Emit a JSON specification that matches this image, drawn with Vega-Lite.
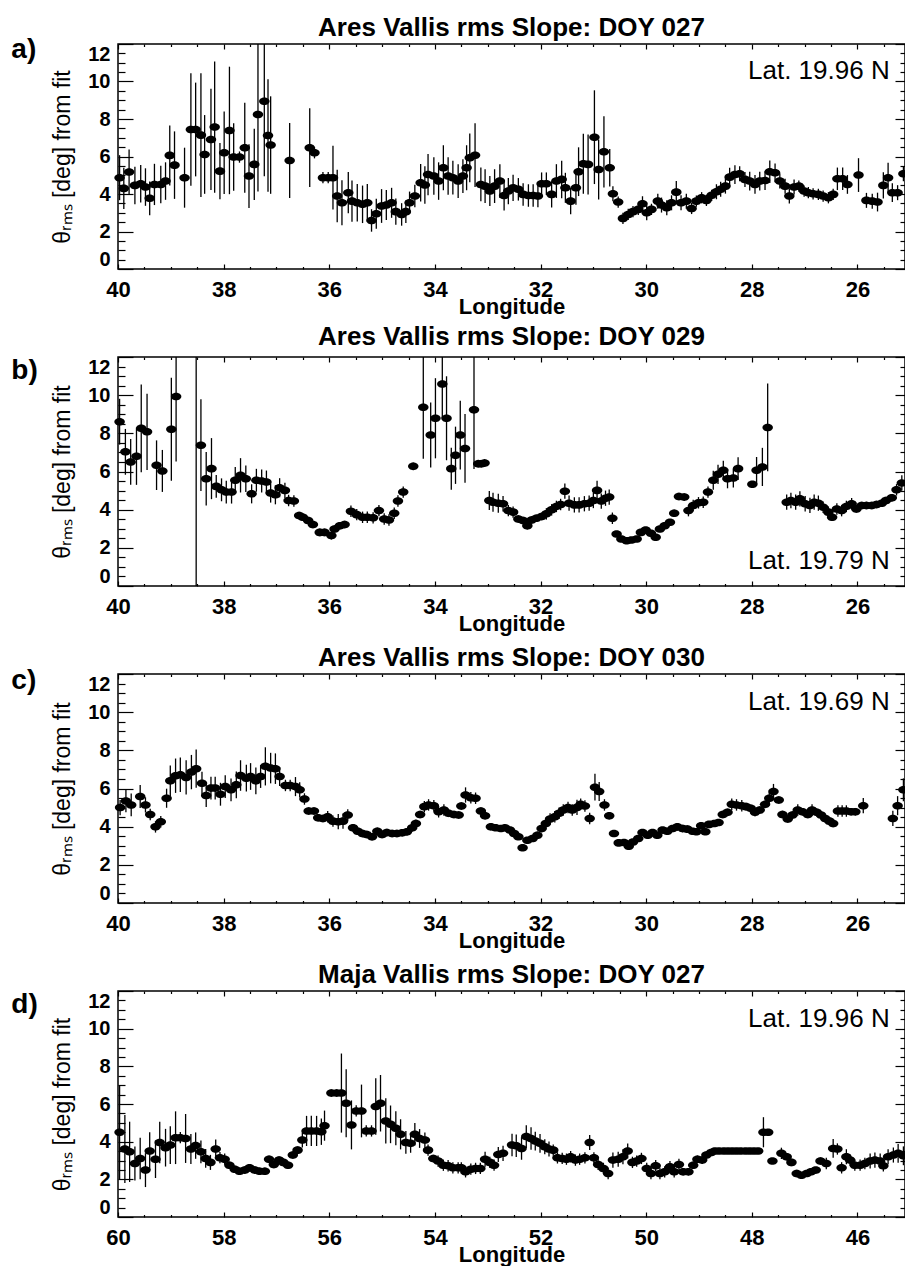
{
  "$schema": "https://vega.github.io/schema/vega-lite/v6.json",
  "background": "white",
  "padding": {"left": 10, "top": 14, "right": 2, "bottom": 0},
  "bounds": "flush",
  "spacing": 88,
  "config": {
    "view": {"stroke": "black", "strokeWidth": 1.5},
    "font": "Liberation Sans",
    "axis": {"labelColor": "black", "titleColor": "black", "tickColor": "black", "labelFont": "Liberation Sans", "titleFont": "Liberation Sans"},
    "title": {"color": "black", "font": "Liberation Sans"}
  },
  "datasets": {
    "a": [
      {"lon":39.97,"v":4.87,"e":1.2},{"lon":39.89,"v":4.30,"e":1.1},{"lon":39.79,"v":5.17,"e":1.2},{"lon":39.68,"v":4.46,"e":1.0},{"lon":39.57,"v":4.55,"e":1.0},{"lon":39.48,"v":4.37,"e":1.0},{"lon":39.40,"v":3.77,"e":0.9},{"lon":39.31,"v":4.51,"e":1.1},{"lon":39.19,"v":4.51,"e":1.0},{"lon":39.10,"v":4.69,"e":1.0},
      {"lon":39.02,"v":6.06,"e":1.6},{"lon":38.93,"v":5.54,"e":1.8},{"lon":38.74,"v":4.87,"e":1.6},{"lon":38.62,"v":7.44,"e":3.0},{"lon":38.53,"v":7.44,"e":2.5},{"lon":38.43,"v":7.14,"e":3.3},{"lon":38.36,"v":6.11,"e":2.1},{"lon":38.24,"v":6.91,"e":2.7},{"lon":38.17,"v":7.57,"e":3.5},{"lon":38.07,"v":5.22,"e":1.5},
      {"lon":37.99,"v":6.20,"e":2.2},{"lon":37.89,"v":7.39,"e":3.4},{"lon":37.81,"v":5.97,"e":1.8},{"lon":37.70,"v":5.97,"e":0.3},{"lon":37.60,"v":6.47,"e":2.4},{"lon":37.52,"v":4.96,"e":1.7},{"lon":37.42,"v":5.58,"e":1.9},{"lon":37.35,"v":8.24,"e":4.1},{"lon":37.23,"v":8.95,"e":4.0},{"lon":37.16,"v":7.12,"e":3.0},
      {"lon":37.11,"v":6.61,"e":2.6},{"lon":36.75,"v":5.79,"e":2.0},{"lon":36.37,"v":6.47,"e":2.1},{"lon":36.28,"v":6.20,"e":0.3},{"lon":36.12,"v":4.87,"e":0.3},{"lon":36.02,"v":4.87,"e":0.3},{"lon":35.93,"v":4.87,"e":1.7},{"lon":35.85,"v":3.89,"e":1.4},{"lon":35.76,"v":3.53,"e":1.2},{"lon":35.64,"v":4.07,"e":1.1},
      {"lon":35.57,"v":3.62,"e":1.1},{"lon":35.47,"v":3.53,"e":1.0},{"lon":35.37,"v":3.45,"e":1.0},{"lon":35.28,"v":3.53,"e":1.0},{"lon":35.20,"v":2.59,"e":0.6},{"lon":35.11,"v":2.95,"e":0.8},{"lon":35.01,"v":3.36,"e":0.9},{"lon":34.92,"v":3.41,"e":0.8},{"lon":34.82,"v":3.53,"e":0.8},{"lon":34.74,"v":3.06,"e":0.7},
      {"lon":34.63,"v":2.91,"e":0.6},{"lon":34.55,"v":3.06,"e":0.6},{"lon":34.48,"v":3.53,"e":0.6},{"lon":34.38,"v":3.89,"e":0.6},{"lon":34.27,"v":4.60,"e":1.0},{"lon":34.19,"v":4.48,"e":1.0},{"lon":34.13,"v":5.04,"e":1.1},{"lon":34.02,"v":4.96,"e":1.0},{"lon":33.93,"v":4.69,"e":1.0},{"lon":33.84,"v":5.40,"e":1.2},
      {"lon":33.75,"v":4.96,"e":1.0},{"lon":33.66,"v":4.87,"e":0.9},{"lon":33.56,"v":4.69,"e":0.9},{"lon":33.47,"v":4.96,"e":0.9},{"lon":33.40,"v":5.40,"e":1.2},{"lon":33.34,"v":5.93,"e":1.3},{"lon":33.24,"v":6.07,"e":1.7},{"lon":33.13,"v":4.51,"e":0.9},{"lon":33.05,"v":4.42,"e":0.9},{"lon":32.96,"v":4.16,"e":0.8},
      {"lon":32.87,"v":4.42,"e":0.9},{"lon":32.77,"v":4.69,"e":0.9},{"lon":32.69,"v":3.92,"e":0.8},{"lon":32.61,"v":4.16,"e":0.7},{"lon":32.52,"v":4.33,"e":0.7},{"lon":32.42,"v":4.25,"e":0.6},{"lon":32.33,"v":3.98,"e":0.6},{"lon":32.23,"v":3.92,"e":0.6},{"lon":32.14,"v":3.92,"e":0.6},{"lon":32.05,"v":3.89,"e":0.6},
      {"lon":31.98,"v":4.55,"e":0.6},{"lon":31.89,"v":4.55,"e":0.6},{"lon":31.79,"v":3.98,"e":0.7},{"lon":31.70,"v":4.69,"e":0.9},{"lon":31.60,"v":4.78,"e":1.0},{"lon":31.53,"v":4.33,"e":0.8},{"lon":31.43,"v":3.62,"e":0.7},{"lon":31.33,"v":4.33,"e":0.9},{"lon":31.28,"v":5.19,"e":1.3},{"lon":31.19,"v":5.61,"e":1.6},
      {"lon":31.10,"v":5.58,"e":1.6},{"lon":30.98,"v":7.03,"e":2.5},{"lon":30.90,"v":5.31,"e":1.6},{"lon":30.80,"v":6.25,"e":1.9},{"lon":30.69,"v":5.40,"e":1.0},{"lon":30.63,"v":4.01,"e":0.4},{"lon":30.53,"v":3.57,"e":0.3},{"lon":30.44,"v":2.70,"e":0.3},{"lon":30.34,"v":2.91,"e":0.3},{"lon":30.25,"v":3.06,"e":0.3},
      {"lon":30.15,"v":3.18,"e":0.3},{"lon":30.07,"v":3.48,"e":0.4},{"lon":29.99,"v":3.00,"e":0.4},{"lon":29.90,"v":3.18,"e":0.3},{"lon":29.78,"v":3.62,"e":0.4},{"lon":29.71,"v":3.41,"e":0.4},{"lon":29.61,"v":3.27,"e":0.4},{"lon":29.52,"v":3.53,"e":0.4},{"lon":29.43,"v":4.10,"e":0.6},{"lon":29.34,"v":3.53,"e":0.4},
      {"lon":29.24,"v":3.62,"e":0.4},{"lon":29.14,"v":3.23,"e":0.3},{"lon":29.05,"v":3.62,"e":0.3},{"lon":28.95,"v":3.80,"e":0.3},{"lon":28.86,"v":3.66,"e":0.3},{"lon":28.76,"v":3.93,"e":0.3},{"lon":28.67,"v":4.12,"e":0.4},{"lon":28.59,"v":4.25,"e":0.4},{"lon":28.50,"v":4.42,"e":0.4},{"lon":28.42,"v":4.90,"e":0.5},
      {"lon":28.32,"v":5.04,"e":0.5},{"lon":28.23,"v":5.08,"e":0.4},{"lon":28.13,"v":4.78,"e":0.4},{"lon":28.04,"v":4.69,"e":0.5},{"lon":27.94,"v":4.51,"e":0.5},{"lon":27.85,"v":4.69,"e":0.5},{"lon":27.75,"v":4.72,"e":0.5},{"lon":27.66,"v":5.19,"e":0.6},{"lon":27.56,"v":5.13,"e":0.5},{"lon":27.47,"v":4.69,"e":0.4},
      {"lon":27.37,"v":4.42,"e":0.4},{"lon":27.29,"v":3.89,"e":0.4},{"lon":27.20,"v":4.37,"e":0.4},{"lon":27.11,"v":4.42,"e":0.3},{"lon":27.01,"v":4.16,"e":0.3},{"lon":26.93,"v":4.07,"e":0.3},{"lon":26.84,"v":4.01,"e":0.3},{"lon":26.74,"v":3.98,"e":0.3},{"lon":26.65,"v":3.89,"e":0.3},{"lon":26.55,"v":3.80,"e":0.3},
      {"lon":26.46,"v":3.98,"e":0.3},{"lon":26.38,"v":4.81,"e":0.6},{"lon":26.28,"v":4.81,"e":0.6},{"lon":26.19,"v":4.51,"e":0.5},{"lon":25.98,"v":5.01,"e":0.9},{"lon":25.83,"v":3.66,"e":0.4},{"lon":25.72,"v":3.62,"e":0.4},{"lon":25.62,"v":3.57,"e":0.5},{"lon":25.51,"v":4.46,"e":0.7},{"lon":25.42,"v":4.87,"e":0.8},
      {"lon":25.34,"v":4.07,"e":0.5},{"lon":25.24,"v":4.07,"e":0.4},{"lon":25.13,"v":5.08,"e":0.4}
    ],
    "b": [
      {"lon":39.97,"v":8.61,"e":1.2},{"lon":39.86,"v":7.03,"e":1.2},{"lon":39.76,"v":6.50,"e":1.2},{"lon":39.65,"v":6.80,"e":1.5},{"lon":39.56,"v":8.26,"e":2.3},{"lon":39.45,"v":8.08,"e":2.0},{"lon":39.27,"v":6.33,"e":1.3},{"lon":39.16,"v":6.03,"e":1.1},{"lon":38.99,"v":8.21,"e":2.7},{"lon":38.90,"v":9.93,"e":3.4},
      {"lon":38.43,"v":7.38,"e":2.4},{"lon":38.33,"v":5.62,"e":1.4},{"lon":38.23,"v":6.15,"e":1.6},{"lon":38.14,"v":5.22,"e":0.6},{"lon":38.04,"v":5.04,"e":0.6},{"lon":37.95,"v":4.92,"e":0.6},{"lon":37.85,"v":4.92,"e":0.6},{"lon":37.78,"v":5.54,"e":0.7},{"lon":37.68,"v":5.80,"e":0.9},{"lon":37.58,"v":5.62,"e":0.7},
      {"lon":37.47,"v":4.83,"e":0.5},{"lon":37.38,"v":5.54,"e":0.6},{"lon":37.28,"v":5.50,"e":0.6},{"lon":37.19,"v":5.45,"e":0.6},{"lon":37.11,"v":4.87,"e":0.5},{"lon":37.02,"v":4.78,"e":0.5},{"lon":36.94,"v":5.15,"e":0.5},{"lon":36.84,"v":5.01,"e":0.4},{"lon":36.77,"v":4.48,"e":0.3},{"lon":36.67,"v":4.45,"e":0.3},
      {"lon":36.57,"v":3.69,"e":0.2},{"lon":36.50,"v":3.60,"e":0.2},{"lon":36.40,"v":3.43,"e":0.2},{"lon":36.31,"v":3.22,"e":0.2},{"lon":36.18,"v":2.81,"e":0.2},{"lon":36.09,"v":2.81,"e":0.2},{"lon":35.96,"v":2.64,"e":0.2},{"lon":35.90,"v":2.99,"e":0.2},{"lon":35.80,"v":3.16,"e":0.2},{"lon":35.71,"v":3.22,"e":0.2},
      {"lon":35.59,"v":3.92,"e":0.3},{"lon":35.48,"v":3.74,"e":0.3},{"lon":35.37,"v":3.60,"e":0.3},{"lon":35.28,"v":3.60,"e":0.3},{"lon":35.17,"v":3.57,"e":0.3},{"lon":35.06,"v":3.95,"e":0.3},{"lon":34.96,"v":3.51,"e":0.3},{"lon":34.87,"v":3.46,"e":0.3},{"lon":34.77,"v":3.81,"e":0.3},{"lon":34.70,"v":4.45,"e":0.3},
      {"lon":34.60,"v":4.92,"e":0.3},{"lon":34.41,"v":6.27,"e":0.2},{"lon":34.22,"v":9.37,"e":2.7},{"lon":34.08,"v":7.91,"e":1.7},{"lon":33.99,"v":8.79,"e":2.1},{"lon":33.86,"v":10.58,"e":1.8},{"lon":33.78,"v":8.79,"e":2.2},{"lon":33.69,"v":6.15,"e":1.1},{"lon":33.61,"v":6.85,"e":1.5},{"lon":33.52,"v":7.91,"e":1.8},
      {"lon":33.43,"v":7.21,"e":1.8},{"lon":33.26,"v":9.23,"e":3.1},{"lon":33.18,"v":6.41,"e":0.2},{"lon":33.12,"v":6.41,"e":0.2},{"lon":33.06,"v":6.45,"e":0.2},{"lon":32.97,"v":4.48,"e":0.5},{"lon":32.90,"v":4.39,"e":0.5},{"lon":32.80,"v":4.34,"e":0.5},{"lon":32.71,"v":4.31,"e":0.4},{"lon":32.61,"v":3.95,"e":0.3},
      {"lon":32.52,"v":3.87,"e":0.3},{"lon":32.42,"v":3.51,"e":0.2},{"lon":32.33,"v":3.43,"e":0.2},{"lon":32.25,"v":3.16,"e":0.2},{"lon":32.17,"v":3.46,"e":0.2},{"lon":32.08,"v":3.55,"e":0.2},{"lon":31.98,"v":3.64,"e":0.2},{"lon":31.89,"v":3.78,"e":0.3},{"lon":31.79,"v":3.99,"e":0.3},{"lon":31.70,"v":4.17,"e":0.3},
      {"lon":31.62,"v":4.27,"e":0.3},{"lon":31.54,"v":4.97,"e":0.4},{"lon":31.46,"v":4.34,"e":0.4},{"lon":31.36,"v":4.25,"e":0.4},{"lon":31.27,"v":4.25,"e":0.4},{"lon":31.17,"v":4.31,"e":0.4},{"lon":31.08,"v":4.34,"e":0.4},{"lon":31.00,"v":4.48,"e":0.4},{"lon":30.93,"v":5.01,"e":0.5},{"lon":30.85,"v":4.45,"e":0.4},
      {"lon":30.77,"v":4.60,"e":0.4},{"lon":30.70,"v":4.66,"e":0.4},{"lon":30.64,"v":3.55,"e":0.3},{"lon":30.56,"v":2.72,"e":0.1},{"lon":30.47,"v":2.46,"e":0.1},{"lon":30.37,"v":2.37,"e":0.1},{"lon":30.28,"v":2.41,"e":0.1},{"lon":30.18,"v":2.46,"e":0.1},{"lon":30.10,"v":2.81,"e":0.1},{"lon":30.01,"v":2.93,"e":0.1},
      {"lon":29.91,"v":2.76,"e":0.1},{"lon":29.82,"v":2.55,"e":0.1},{"lon":29.74,"v":2.99,"e":0.1},{"lon":29.65,"v":3.16,"e":0.1},{"lon":29.55,"v":3.34,"e":0.1},{"lon":29.47,"v":3.81,"e":0.2},{"lon":29.38,"v":4.69,"e":0.2},{"lon":29.28,"v":4.66,"e":0.2},{"lon":29.20,"v":3.95,"e":0.3},{"lon":29.11,"v":4.22,"e":0.3},
      {"lon":29.01,"v":4.36,"e":0.3},{"lon":28.92,"v":4.39,"e":0.3},{"lon":28.83,"v":4.92,"e":0.3},{"lon":28.73,"v":5.54,"e":0.5},{"lon":28.64,"v":5.85,"e":0.5},{"lon":28.54,"v":6.06,"e":0.5},{"lon":28.46,"v":5.62,"e":0.5},{"lon":28.35,"v":5.66,"e":0.5},{"lon":28.26,"v":6.15,"e":0.6},{"lon":27.99,"v":5.33,"e":0.1},
      {"lon":27.91,"v":6.06,"e":0.7},{"lon":27.80,"v":6.24,"e":1.0},{"lon":27.70,"v":8.31,"e":2.3},{"lon":27.34,"v":4.39,"e":0.4},{"lon":27.26,"v":4.48,"e":0.4},{"lon":27.17,"v":4.39,"e":0.4},{"lon":27.09,"v":4.57,"e":0.4},{"lon":26.99,"v":4.31,"e":0.4},{"lon":26.90,"v":4.22,"e":0.4},{"lon":26.82,"v":4.39,"e":0.4},
      {"lon":26.74,"v":4.34,"e":0.4},{"lon":26.65,"v":4.13,"e":0.3},{"lon":26.55,"v":3.87,"e":0.3},{"lon":26.48,"v":3.60,"e":0.2},{"lon":26.39,"v":4.04,"e":0.3},{"lon":26.30,"v":3.95,"e":0.3},{"lon":26.21,"v":4.17,"e":0.3},{"lon":26.11,"v":4.31,"e":0.3},{"lon":26.02,"v":4.04,"e":0.2},{"lon":25.92,"v":4.22,"e":0.2},
      {"lon":25.83,"v":4.22,"e":0.2},{"lon":25.73,"v":4.22,"e":0.2},{"lon":25.64,"v":4.27,"e":0.2},{"lon":25.54,"v":4.34,"e":0.2},{"lon":25.46,"v":4.48,"e":0.2},{"lon":25.35,"v":4.62,"e":0.2},{"lon":25.26,"v":5.04,"e":0.3},{"lon":25.16,"v":5.40,"e":0.4}
    ],
    "c": [
      {"lon":39.96,"v":5.00,"e":0.4},{"lon":39.85,"v":5.35,"e":0.6},{"lon":39.75,"v":5.14,"e":0.6},{"lon":39.58,"v":5.58,"e":0.6},{"lon":39.48,"v":5.14,"e":0.4},{"lon":39.39,"v":4.64,"e":0.3},{"lon":39.29,"v":3.99,"e":0.3},{"lon":39.19,"v":4.26,"e":0.3},{"lon":39.08,"v":5.49,"e":0.5},{"lon":39.01,"v":6.40,"e":0.8},
      {"lon":38.91,"v":6.67,"e":0.9},{"lon":38.82,"v":6.72,"e":0.9},{"lon":38.71,"v":6.58,"e":0.9},{"lon":38.61,"v":6.86,"e":0.9},{"lon":38.52,"v":7.04,"e":1.0},{"lon":38.41,"v":6.28,"e":0.6},{"lon":38.33,"v":5.63,"e":0.6},{"lon":38.24,"v":6.02,"e":0.6},{"lon":38.16,"v":6.02,"e":0.6},{"lon":38.06,"v":5.70,"e":0.6},
      {"lon":37.97,"v":6.10,"e":0.6},{"lon":37.86,"v":5.93,"e":0.6},{"lon":37.76,"v":6.19,"e":0.7},{"lon":37.68,"v":6.68,"e":0.8},{"lon":37.57,"v":6.54,"e":0.7},{"lon":37.49,"v":6.63,"e":0.7},{"lon":37.39,"v":6.40,"e":0.7},{"lon":37.30,"v":6.63,"e":0.6},{"lon":37.21,"v":7.16,"e":1.0},{"lon":37.11,"v":7.07,"e":0.8},
      {"lon":37.02,"v":7.04,"e":0.8},{"lon":36.94,"v":6.63,"e":0.5},{"lon":36.83,"v":6.16,"e":0.3},{"lon":36.74,"v":6.16,"e":0.3},{"lon":36.64,"v":6.10,"e":0.5},{"lon":36.56,"v":5.93,"e":0.4},{"lon":36.47,"v":5.45,"e":0.3},{"lon":36.39,"v":4.82,"e":0.2},{"lon":36.29,"v":4.82,"e":0.2},{"lon":36.21,"v":4.47,"e":0.2},
      {"lon":36.12,"v":4.43,"e":0.2},{"lon":36.03,"v":4.52,"e":0.3},{"lon":35.93,"v":4.29,"e":0.3},{"lon":35.83,"v":4.26,"e":0.4},{"lon":35.74,"v":4.29,"e":0.4},{"lon":35.65,"v":4.61,"e":0.3},{"lon":35.55,"v":3.94,"e":0.2},{"lon":35.46,"v":3.76,"e":0.2},{"lon":35.37,"v":3.64,"e":0.2},{"lon":35.29,"v":3.59,"e":0.2},
      {"lon":35.19,"v":3.47,"e":0.2},{"lon":35.09,"v":3.76,"e":0.2},{"lon":35.00,"v":3.59,"e":0.2},{"lon":34.91,"v":3.69,"e":0.2},{"lon":34.81,"v":3.64,"e":0.2},{"lon":34.72,"v":3.64,"e":0.2},{"lon":34.62,"v":3.68,"e":0.2},{"lon":34.53,"v":3.73,"e":0.2},{"lon":34.43,"v":3.94,"e":0.2},{"lon":34.36,"v":4.17,"e":0.2},
      {"lon":34.28,"v":4.64,"e":0.2},{"lon":34.20,"v":5.05,"e":0.3},{"lon":34.12,"v":5.14,"e":0.3},{"lon":34.02,"v":5.10,"e":0.3},{"lon":33.93,"v":4.78,"e":0.3},{"lon":33.83,"v":4.87,"e":0.3},{"lon":33.74,"v":4.70,"e":0.2},{"lon":33.64,"v":4.64,"e":0.2},{"lon":33.55,"v":4.61,"e":0.2},{"lon":33.50,"v":5.08,"e":0.2},
      {"lon":33.42,"v":5.66,"e":0.4},{"lon":33.32,"v":5.52,"e":0.3},{"lon":33.23,"v":5.49,"e":0.3},{"lon":33.13,"v":4.82,"e":0.2},{"lon":33.05,"v":4.57,"e":0.2},{"lon":32.94,"v":3.99,"e":0.1},{"lon":32.85,"v":3.94,"e":0.1},{"lon":32.75,"v":3.90,"e":0.1},{"lon":32.67,"v":3.94,"e":0.1},{"lon":32.58,"v":3.82,"e":0.1},
      {"lon":32.50,"v":3.64,"e":0.1},{"lon":32.42,"v":3.47,"e":0.1},{"lon":32.34,"v":2.90,"e":0.1},{"lon":32.25,"v":3.29,"e":0.1},{"lon":32.15,"v":3.38,"e":0.1},{"lon":32.06,"v":3.55,"e":0.2},{"lon":31.98,"v":3.90,"e":0.2},{"lon":31.90,"v":4.17,"e":0.3},{"lon":31.82,"v":4.40,"e":0.3},{"lon":31.73,"v":4.52,"e":0.3},
      {"lon":31.65,"v":4.70,"e":0.3},{"lon":31.57,"v":4.87,"e":0.3},{"lon":31.48,"v":5.00,"e":0.3},{"lon":31.40,"v":4.87,"e":0.3},{"lon":31.31,"v":5.01,"e":0.4},{"lon":31.24,"v":5.17,"e":0.3},{"lon":31.16,"v":5.08,"e":0.3},{"lon":31.07,"v":4.43,"e":0.3},{"lon":30.97,"v":6.07,"e":0.7},{"lon":30.89,"v":5.84,"e":0.5},
      {"lon":30.79,"v":5.14,"e":0.3},{"lon":30.70,"v":4.57,"e":0.2},{"lon":30.61,"v":3.64,"e":0.1},{"lon":30.52,"v":3.15,"e":0.1},{"lon":30.42,"v":3.17,"e":0.1},{"lon":30.33,"v":2.97,"e":0.1},{"lon":30.25,"v":3.20,"e":0.1},{"lon":30.15,"v":3.38,"e":0.1},{"lon":30.07,"v":3.69,"e":0.1},{"lon":29.97,"v":3.55,"e":0.1},
      {"lon":29.88,"v":3.69,"e":0.1},{"lon":29.79,"v":3.55,"e":0.1},{"lon":29.69,"v":3.82,"e":0.1},{"lon":29.60,"v":3.76,"e":0.1},{"lon":29.50,"v":3.90,"e":0.1},{"lon":29.41,"v":3.99,"e":0.2},{"lon":29.31,"v":3.90,"e":0.2},{"lon":29.22,"v":3.87,"e":0.2},{"lon":29.12,"v":3.76,"e":0.1},{"lon":29.05,"v":3.73,"e":0.1},
      {"lon":28.96,"v":4.05,"e":0.2},{"lon":28.88,"v":3.73,"e":0.1},{"lon":28.81,"v":4.12,"e":0.1},{"lon":28.71,"v":4.17,"e":0.1},{"lon":28.63,"v":4.22,"e":0.1},{"lon":28.55,"v":4.64,"e":0.2},{"lon":28.46,"v":4.75,"e":0.2},{"lon":28.38,"v":5.17,"e":0.3},{"lon":28.29,"v":5.14,"e":0.3},{"lon":28.19,"v":5.10,"e":0.3},
      {"lon":28.11,"v":5.05,"e":0.2},{"lon":28.02,"v":4.96,"e":0.2},{"lon":27.94,"v":4.75,"e":0.2},{"lon":27.85,"v":4.87,"e":0.2},{"lon":27.75,"v":5.17,"e":0.2},{"lon":27.67,"v":5.49,"e":0.3},{"lon":27.59,"v":5.84,"e":0.4},{"lon":27.49,"v":5.40,"e":0.2},{"lon":27.42,"v":4.64,"e":0.2},{"lon":27.32,"v":4.40,"e":0.2},
      {"lon":27.23,"v":4.61,"e":0.2},{"lon":27.13,"v":4.87,"e":0.3},{"lon":27.04,"v":4.78,"e":0.2},{"lon":26.94,"v":4.64,"e":0.2},{"lon":26.86,"v":4.87,"e":0.3},{"lon":26.77,"v":4.75,"e":0.2},{"lon":26.69,"v":4.61,"e":0.2},{"lon":26.61,"v":4.43,"e":0.2},{"lon":26.53,"v":4.29,"e":0.2},{"lon":26.46,"v":4.17,"e":0.2},
      {"lon":26.37,"v":4.82,"e":0.3},{"lon":26.29,"v":4.82,"e":0.3},{"lon":26.21,"v":4.82,"e":0.3},{"lon":26.12,"v":4.78,"e":0.2},{"lon":26.04,"v":4.78,"e":0.2},{"lon":25.89,"v":5.10,"e":0.4},{"lon":25.33,"v":4.43,"e":0.4},{"lon":25.24,"v":5.10,"e":0.5},{"lon":25.13,"v":5.93,"e":0.6}
    ],
    "d": [
      {"lon":59.97,"v":4.50,"e":2.5},{"lon":59.87,"v":3.61,"e":1.8},{"lon":59.78,"v":3.46,"e":1.6},{"lon":59.68,"v":2.84,"e":0.9},{"lon":59.58,"v":3.11,"e":1.1},{"lon":59.48,"v":2.49,"e":0.9},{"lon":59.40,"v":3.50,"e":1.0},{"lon":59.29,"v":3.07,"e":1.0},{"lon":59.21,"v":3.96,"e":1.1},{"lon":59.10,"v":3.68,"e":1.0},
      {"lon":59.01,"v":3.82,"e":1.0},{"lon":58.91,"v":4.21,"e":1.4},{"lon":58.82,"v":4.21,"e":0.3},{"lon":58.72,"v":4.17,"e":1.3},{"lon":58.62,"v":3.61,"e":0.8},{"lon":58.53,"v":3.79,"e":0.7},{"lon":58.43,"v":3.46,"e":0.6},{"lon":58.34,"v":3.11,"e":0.5},{"lon":58.25,"v":2.90,"e":0.4},{"lon":58.15,"v":3.61,"e":0.5},
      {"lon":58.07,"v":3.15,"e":0.3},{"lon":57.98,"v":3.07,"e":0.3},{"lon":57.89,"v":2.75,"e":0.2},{"lon":57.79,"v":2.54,"e":0.2},{"lon":57.70,"v":2.43,"e":0.2},{"lon":57.60,"v":2.49,"e":0.2},{"lon":57.51,"v":2.61,"e":0.2},{"lon":57.41,"v":2.49,"e":0.2},{"lon":57.32,"v":2.43,"e":0.2},{"lon":57.22,"v":2.43,"e":0.2},
      {"lon":57.14,"v":3.07,"e":0.2},{"lon":57.05,"v":2.79,"e":0.2},{"lon":56.95,"v":3.02,"e":0.2},{"lon":56.87,"v":2.90,"e":0.2},{"lon":56.78,"v":2.75,"e":0.2},{"lon":56.69,"v":3.29,"e":0.2},{"lon":56.60,"v":3.55,"e":0.2},{"lon":56.51,"v":4.09,"e":0.4},{"lon":56.43,"v":4.57,"e":0.8},{"lon":56.34,"v":4.57,"e":0.8},
      {"lon":56.24,"v":4.57,"e":0.8},{"lon":56.15,"v":4.53,"e":0.7},{"lon":56.09,"v":4.85,"e":0.8},{"lon":55.96,"v":6.58,"e":0.2},{"lon":55.86,"v":6.58,"e":0.2},{"lon":55.77,"v":6.58,"e":2.1},{"lon":55.68,"v":6.04,"e":1.8},{"lon":55.58,"v":4.89,"e":1.3},{"lon":55.49,"v":5.63,"e":0.3},{"lon":55.39,"v":5.63,"e":1.4},
      {"lon":55.30,"v":4.57,"e":0.3},{"lon":55.20,"v":4.57,"e":0.3},{"lon":55.12,"v":5.87,"e":1.5},{"lon":55.03,"v":6.04,"e":1.5},{"lon":54.93,"v":5.10,"e":1.2},{"lon":54.84,"v":4.92,"e":1.0},{"lon":54.74,"v":4.71,"e":0.9},{"lon":54.65,"v":4.39,"e":0.8},{"lon":54.55,"v":3.96,"e":0.6},{"lon":54.46,"v":3.91,"e":0.5},
      {"lon":54.38,"v":4.39,"e":0.6},{"lon":54.29,"v":4.17,"e":0.5},{"lon":54.19,"v":4.09,"e":0.4},{"lon":54.13,"v":3.55,"e":0.3},{"lon":54.03,"v":3.11,"e":0.2},{"lon":53.94,"v":2.97,"e":0.3},{"lon":53.84,"v":2.75,"e":0.3},{"lon":53.75,"v":2.72,"e":0.3},{"lon":53.66,"v":2.61,"e":0.3},{"lon":53.56,"v":2.61,"e":0.3},
      {"lon":53.50,"v":2.61,"e":0.3},{"lon":53.42,"v":2.40,"e":0.3},{"lon":53.32,"v":2.54,"e":0.3},{"lon":53.23,"v":2.58,"e":0.3},{"lon":53.14,"v":2.58,"e":0.3},{"lon":53.05,"v":3.07,"e":0.4},{"lon":52.96,"v":2.90,"e":0.3},{"lon":52.88,"v":2.75,"e":0.3},{"lon":52.80,"v":3.32,"e":0.4},{"lon":52.71,"v":3.38,"e":0.4},
      {"lon":52.54,"v":3.82,"e":0.6},{"lon":52.46,"v":3.78,"e":0.6},{"lon":52.36,"v":3.64,"e":0.6},{"lon":52.27,"v":4.27,"e":0.6},{"lon":52.18,"v":4.17,"e":0.6},{"lon":52.10,"v":4.03,"e":0.5},{"lon":52.01,"v":3.91,"e":0.5},{"lon":51.92,"v":3.73,"e":0.4},{"lon":51.84,"v":3.61,"e":0.4},{"lon":51.76,"v":3.55,"e":0.3},
      {"lon":51.68,"v":3.14,"e":0.3},{"lon":51.59,"v":3.11,"e":0.3},{"lon":51.51,"v":3.07,"e":0.3},{"lon":51.43,"v":3.20,"e":0.3},{"lon":51.34,"v":3.02,"e":0.3},{"lon":51.26,"v":3.07,"e":0.3},{"lon":51.16,"v":3.14,"e":0.3},{"lon":51.07,"v":3.96,"e":0.4},{"lon":50.99,"v":3.14,"e":0.3},{"lon":50.91,"v":2.79,"e":0.3},
      {"lon":50.81,"v":2.58,"e":0.3},{"lon":50.72,"v":2.31,"e":0.3},{"lon":50.63,"v":3.02,"e":0.4},{"lon":50.53,"v":3.07,"e":0.4},{"lon":50.44,"v":3.20,"e":0.4},{"lon":50.35,"v":3.50,"e":0.4},{"lon":50.26,"v":2.90,"e":0.3},{"lon":50.18,"v":2.97,"e":0.3},{"lon":50.09,"v":3.11,"e":0.3},{"lon":49.99,"v":2.58,"e":0.3},
      {"lon":49.91,"v":2.31,"e":0.3},{"lon":49.82,"v":2.72,"e":0.3},{"lon":49.74,"v":2.31,"e":0.3},{"lon":49.65,"v":2.40,"e":0.3},{"lon":49.55,"v":2.67,"e":0.3},{"lon":49.47,"v":2.40,"e":0.3},{"lon":49.38,"v":2.79,"e":0.3},{"lon":49.30,"v":2.40,"e":0.2},{"lon":49.20,"v":2.40,"e":0.2},{"lon":49.11,"v":2.75,"e":0.2},
      {"lon":49.03,"v":3.07,"e":0.2},{"lon":48.94,"v":3.02,"e":0.2},{"lon":48.86,"v":3.29,"e":0.2},{"lon":48.77,"v":3.43,"e":0.1},{"lon":48.70,"v":3.50,"e":0.05},{"lon":48.62,"v":3.50,"e":0.05},{"lon":48.53,"v":3.50,"e":0.05},{"lon":48.45,"v":3.50,"e":0.05},{"lon":48.37,"v":3.50,"e":0.05},{"lon":48.29,"v":3.50,"e":0.05},
      {"lon":48.21,"v":3.50,"e":0.05},{"lon":48.12,"v":3.50,"e":0.05},{"lon":48.04,"v":3.50,"e":0.05},{"lon":47.96,"v":3.50,"e":0.05},{"lon":47.88,"v":3.50,"e":0.05},{"lon":47.78,"v":4.50,"e":0.8},{"lon":47.69,"v":4.50,"e":0.1},{"lon":47.61,"v":2.97,"e":0.1},{"lon":47.44,"v":3.38,"e":0.3},{"lon":47.34,"v":3.20,"e":0.2},
      {"lon":47.25,"v":2.90,"e":0.2},{"lon":47.15,"v":2.31,"e":0.2},{"lon":47.06,"v":2.22,"e":0.1},{"lon":46.96,"v":2.31,"e":0.1},{"lon":46.88,"v":2.40,"e":0.1},{"lon":46.79,"v":2.49,"e":0.1},{"lon":46.70,"v":2.97,"e":0.2},{"lon":46.59,"v":2.84,"e":0.3},{"lon":46.46,"v":3.64,"e":0.5},{"lon":46.38,"v":3.61,"e":0.3},
      {"lon":46.30,"v":2.61,"e":0.3},{"lon":46.21,"v":3.20,"e":0.4},{"lon":46.14,"v":3.02,"e":0.3},{"lon":46.05,"v":2.75,"e":0.3},{"lon":45.95,"v":2.75,"e":0.3},{"lon":45.86,"v":2.84,"e":0.3},{"lon":45.76,"v":2.97,"e":0.4},{"lon":45.67,"v":3.02,"e":0.4},{"lon":45.57,"v":2.97,"e":0.4},{"lon":45.51,"v":2.72,"e":0.3},
      {"lon":45.42,"v":3.20,"e":0.4},{"lon":45.32,"v":3.29,"e":0.4},{"lon":45.23,"v":3.38,"e":0.5},{"lon":45.13,"v":3.25,"e":0.5}
    ]
  },
  "vconcat": [
    {
      "width": 787, "height": 225,
      "title": {"text": "Ares Vallis rms Slope: DOY 027", "fontSize": 26, "fontWeight": "bold", "anchor": "middle", "frame": "group", "baseline": "alphabetic", "offset": -26},
      "data": {"name": "a"},
      "resolve": {"axis": {"x": "independent", "y": "independent"}},
      "layer": [
        {"mark": {"type": "errorbar", "color": "black", "thickness": 1.3},
         "encoding": {
           "x": {"field": "lon", "type": "quantitative", "scale": {"domain": [40, 25.1], "nice": false, "zero": false}, "axis": null},
           "y": {"field": "v", "type": "quantitative", "scale": {"domain": [0, 12], "nice": false, "zero": false, "clamp": true}, "axis": null},
           "yError": {"field": "e"}}},
        {"mark": {"type": "point", "filled": true, "color": "black", "opacity": 1, "size": 110, "shape": "M-1,0A1,0.72,0,1,1,1,0A1,0.72,0,1,1,-1,0Z"},
         "encoding": {
           "x": {"field": "lon", "type": "quantitative", "scale": {"domain": [40, 25.1], "nice": false, "zero": false},
                 "axis": {"orient": "bottom", "values": [40, 38, 36, 34, 32, 30, 28, 26], "ticks": false, "domain": false, "grid": false, "labelFontSize": 22, "labelFontWeight": "bold", "labelPadding": 10, "labelOverlap": false, "labelFlush": false, "title": "Longitude", "titleFontSize": 22, "titleFontWeight": "bold", "titlePadding": -4}},
           "y": {"field": "v", "type": "quantitative", "scale": {"domain": [0, 12], "nice": false, "zero": false, "clamp": true},
                 "axis": {"orient": "left", "values": [0, 2, 4, 6, 8, 10, 12], "ticks": false, "domain": false, "grid": false, "labelFontSize": 20, "labelFontWeight": "bold", "labelPadding": 8, "labelFlush": true, "labelOverlap": false, "title": "θᵣₘₛ [deg] from fit", "titleFontSize": 23, "titleFontWeight": "normal", "titlePadding": 13}}}},
        {"mark": {"type": "point", "opacity": 0},
         "encoding": {
           "x": {"field": "lon", "type": "quantitative", "scale": {"domain": [40, 25.1], "nice": false, "zero": false},
                 "axis": {"orient": "bottom", "values": [25.5,26,26.5,27,27.5,28,28.5,29,29.5,30,30.5,31,31.5,32,32.5,33,33.5,34,34.5,35,35.5,36,36.5,37,37.5,38,38.5,39,39.5,40], "labels": false, "domain": false, "grid": false, "title": null, "tickWidth": 1.2, "tickSize": {"condition": {"test": "datum.value % 2 === 0", "value": -5}, "value": -2.5}}},
           "y": {"field": "v", "type": "quantitative", "scale": {"domain": [0, 12], "nice": false, "zero": false, "clamp": true},
                 "axis": {"orient": "left", "values": [0,0.5,1,1.5,2,2.5,3,3.5,4,4.5,5,5.5,6,6.5,7,7.5,8,8.5,9,9.5,10,10.5,11,11.5,12], "labels": false, "domain": false, "grid": false, "title": null, "tickWidth": 1.2, "tickSize": {"condition": {"test": "datum.value % 2 === 0", "value": -15}, "value": -7}}}}},
        {"mark": {"type": "point", "opacity": 0},
         "encoding": {
           "x": {"field": "lon", "type": "quantitative", "scale": {"domain": [40, 25.1], "nice": false, "zero": false},
                 "axis": {"orient": "top", "values": [25.5,26,26.5,27,27.5,28,28.5,29,29.5,30,30.5,31,31.5,32,32.5,33,33.5,34,34.5,35,35.5,36,36.5,37,37.5,38,38.5,39,39.5,40], "labels": false, "domain": false, "grid": false, "title": null, "tickWidth": 1.2, "tickSize": {"condition": {"test": "datum.value % 2 === 0", "value": -5}, "value": -2.5}}},
           "y": {"field": "v", "type": "quantitative", "scale": {"domain": [0, 12], "nice": false, "zero": false, "clamp": true},
                 "axis": {"orient": "right", "values": [0,0.5,1,1.5,2,2.5,3,3.5,4,4.5,5,5.5,6,6.5,7,7.5,8,8.5,9,9.5,10,10.5,11,11.5,12], "labels": false, "domain": false, "grid": false, "title": null, "tickWidth": 1.2, "tickSize": {"condition": {"test": "datum.value % 2 === 0", "value": -10}, "value": -5}}}}},
        {"data": {"values": [{"k": 1}]},
         "mark": {"type": "text", "text": "a)", "fontSize": 28, "fontWeight": "bold", "align": "left", "baseline": "alphabetic", "color": "black"},
         "encoding": {
           "x": {"datum": 42.02, "type": "quantitative", "scale": {"domain": [40, 25.1], "nice": false, "zero": false}, "axis": null},
           "y": {"datum": 11.25, "type": "quantitative", "scale": {"domain": [0, 12], "nice": false, "zero": false, "clamp": true}, "axis": null}}},
        {"data": {"values": [{"k": 1}]},
         "mark": {"type": "text", "text": "Lat. 19.96 N", "fontSize": 26, "align": "right", "baseline": "alphabetic", "color": "black"},
         "encoding": {
           "x": {"datum": 25.39, "type": "quantitative", "scale": {"domain": [40, 25.1], "nice": false, "zero": false}, "axis": null},
           "y": {"datum": 10.15, "type": "quantitative", "scale": {"domain": [0, 12], "nice": false, "zero": false, "clamp": true}, "axis": null}}}
      ]
    },
    {
      "width": 787, "height": 229,
      "title": {"text": "Ares Vallis rms Slope: DOY 029", "fontSize": 26, "fontWeight": "bold", "anchor": "middle", "frame": "group", "baseline": "alphabetic", "offset": -15},
      "data": {"name": "b"},
      "resolve": {"axis": {"x": "independent", "y": "independent"}},
      "layer": [
        {"data": {"values": [{"lon": 38.52, "lo": -1, "hi": 13}]},
         "mark": {"type": "rule", "color": "black", "strokeWidth": 1.3},
         "encoding": {
           "x": {"field": "lon", "type": "quantitative", "scale": {"domain": [40, 25.1], "nice": false, "zero": false}, "axis": null},
           "y": {"field": "lo", "type": "quantitative", "scale": {"domain": [0, 12], "nice": false, "zero": false, "clamp": true}, "axis": null},
           "y2": {"field": "hi"}}},
        {"mark": {"type": "errorbar", "color": "black", "thickness": 1.3},
         "encoding": {
           "x": {"field": "lon", "type": "quantitative", "scale": {"domain": [40, 25.1], "nice": false, "zero": false}, "axis": null},
           "y": {"field": "v", "type": "quantitative", "scale": {"domain": [0, 12], "nice": false, "zero": false, "clamp": true}, "axis": null},
           "yError": {"field": "e"}}},
        {"mark": {"type": "point", "filled": true, "color": "black", "opacity": 1, "size": 110, "shape": "M-1,0A1,0.72,0,1,1,1,0A1,0.72,0,1,1,-1,0Z"},
         "encoding": {
           "x": {"field": "lon", "type": "quantitative", "scale": {"domain": [40, 25.1], "nice": false, "zero": false},
                 "axis": {"orient": "bottom", "values": [40, 38, 36, 34, 32, 30, 28, 26], "ticks": false, "domain": false, "grid": false, "labelFontSize": 22, "labelFontWeight": "bold", "labelPadding": 10, "labelOverlap": false, "labelFlush": false, "title": "Longitude", "titleFontSize": 22, "titleFontWeight": "bold", "titlePadding": -4}},
           "y": {"field": "v", "type": "quantitative", "scale": {"domain": [0, 12], "nice": false, "zero": false, "clamp": true},
                 "axis": {"orient": "left", "values": [0, 2, 4, 6, 8, 10, 12], "ticks": false, "domain": false, "grid": false, "labelFontSize": 20, "labelFontWeight": "bold", "labelPadding": 8, "labelFlush": true, "labelOverlap": false, "title": "θᵣₘₛ [deg] from fit", "titleFontSize": 23, "titleFontWeight": "normal", "titlePadding": 13}}}},
        {"mark": {"type": "point", "opacity": 0},
         "encoding": {
           "x": {"field": "lon", "type": "quantitative", "scale": {"domain": [40, 25.1], "nice": false, "zero": false},
                 "axis": {"orient": "bottom", "values": [25.5,26,26.5,27,27.5,28,28.5,29,29.5,30,30.5,31,31.5,32,32.5,33,33.5,34,34.5,35,35.5,36,36.5,37,37.5,38,38.5,39,39.5,40], "labels": false, "domain": false, "grid": false, "title": null, "tickWidth": 1.2, "tickSize": {"condition": {"test": "datum.value % 2 === 0", "value": -5}, "value": -2.5}}},
           "y": {"field": "v", "type": "quantitative", "scale": {"domain": [0, 12], "nice": false, "zero": false, "clamp": true},
                 "axis": {"orient": "left", "values": [0,0.5,1,1.5,2,2.5,3,3.5,4,4.5,5,5.5,6,6.5,7,7.5,8,8.5,9,9.5,10,10.5,11,11.5,12], "labels": false, "domain": false, "grid": false, "title": null, "tickWidth": 1.2, "tickSize": {"condition": {"test": "datum.value % 2 === 0", "value": -15}, "value": -7}}}}},
        {"mark": {"type": "point", "opacity": 0},
         "encoding": {
           "x": {"field": "lon", "type": "quantitative", "scale": {"domain": [40, 25.1], "nice": false, "zero": false},
                 "axis": {"orient": "top", "values": [25.5,26,26.5,27,27.5,28,28.5,29,29.5,30,30.5,31,31.5,32,32.5,33,33.5,34,34.5,35,35.5,36,36.5,37,37.5,38,38.5,39,39.5,40], "labels": false, "domain": false, "grid": false, "title": null, "tickWidth": 1.2, "tickSize": {"condition": {"test": "datum.value % 2 === 0", "value": -5}, "value": -2.5}}},
           "y": {"field": "v", "type": "quantitative", "scale": {"domain": [0, 12], "nice": false, "zero": false, "clamp": true},
                 "axis": {"orient": "right", "values": [0,0.5,1,1.5,2,2.5,3,3.5,4,4.5,5,5.5,6,6.5,7,7.5,8,8.5,9,9.5,10,10.5,11,11.5,12], "labels": false, "domain": false, "grid": false, "title": null, "tickWidth": 1.2, "tickSize": {"condition": {"test": "datum.value % 2 === 0", "value": -10}, "value": -5}}}}},
        {"data": {"values": [{"k": 1}]},
         "mark": {"type": "text", "text": "b)", "fontSize": 28, "fontWeight": "bold", "align": "left", "baseline": "alphabetic", "color": "black"},
         "encoding": {
           "x": {"datum": 42.02, "type": "quantitative", "scale": {"domain": [40, 25.1], "nice": false, "zero": false}, "axis": null},
           "y": {"datum": 10.83, "type": "quantitative", "scale": {"domain": [0, 12], "nice": false, "zero": false, "clamp": true}, "axis": null}}},
        {"data": {"values": [{"k": 1}]},
         "mark": {"type": "text", "text": "Lat. 19.79 N", "fontSize": 26, "align": "right", "baseline": "alphabetic", "color": "black"},
         "encoding": {
           "x": {"datum": 25.39, "type": "quantitative", "scale": {"domain": [40, 25.1], "nice": false, "zero": false}, "axis": null},
           "y": {"datum": 0.9, "type": "quantitative", "scale": {"domain": [0, 12], "nice": false, "zero": false, "clamp": true}, "axis": null}}}
      ]
    },
    {
      "width": 787, "height": 229,
      "title": {"text": "Ares Vallis rms Slope: DOY 030", "fontSize": 26, "fontWeight": "bold", "anchor": "middle", "frame": "group", "baseline": "alphabetic", "offset": -25},
      "data": {"name": "c"},
      "resolve": {"axis": {"x": "independent", "y": "independent"}},
      "layer": [
        {"mark": {"type": "errorbar", "color": "black", "thickness": 1.3},
         "encoding": {
           "x": {"field": "lon", "type": "quantitative", "scale": {"domain": [40, 25.1], "nice": false, "zero": false}, "axis": null},
           "y": {"field": "v", "type": "quantitative", "scale": {"domain": [0, 12], "nice": false, "zero": false, "clamp": true}, "axis": null},
           "yError": {"field": "e"}}},
        {"mark": {"type": "point", "filled": true, "color": "black", "opacity": 1, "size": 110, "shape": "M-1,0A1,0.72,0,1,1,1,0A1,0.72,0,1,1,-1,0Z"},
         "encoding": {
           "x": {"field": "lon", "type": "quantitative", "scale": {"domain": [40, 25.1], "nice": false, "zero": false},
                 "axis": {"orient": "bottom", "values": [40, 38, 36, 34, 32, 30, 28, 26], "ticks": false, "domain": false, "grid": false, "labelFontSize": 22, "labelFontWeight": "bold", "labelPadding": 10, "labelOverlap": false, "labelFlush": false, "title": "Longitude", "titleFontSize": 22, "titleFontWeight": "bold", "titlePadding": -4}},
           "y": {"field": "v", "type": "quantitative", "scale": {"domain": [0, 12], "nice": false, "zero": false, "clamp": true},
                 "axis": {"orient": "left", "values": [0, 2, 4, 6, 8, 10, 12], "ticks": false, "domain": false, "grid": false, "labelFontSize": 20, "labelFontWeight": "bold", "labelPadding": 8, "labelFlush": true, "labelOverlap": false, "title": "θᵣₘₛ [deg] from fit", "titleFontSize": 23, "titleFontWeight": "normal", "titlePadding": 13}}}},
        {"mark": {"type": "point", "opacity": 0},
         "encoding": {
           "x": {"field": "lon", "type": "quantitative", "scale": {"domain": [40, 25.1], "nice": false, "zero": false},
                 "axis": {"orient": "bottom", "values": [25.5,26,26.5,27,27.5,28,28.5,29,29.5,30,30.5,31,31.5,32,32.5,33,33.5,34,34.5,35,35.5,36,36.5,37,37.5,38,38.5,39,39.5,40], "labels": false, "domain": false, "grid": false, "title": null, "tickWidth": 1.2, "tickSize": {"condition": {"test": "datum.value % 2 === 0", "value": -5}, "value": -2.5}}},
           "y": {"field": "v", "type": "quantitative", "scale": {"domain": [0, 12], "nice": false, "zero": false, "clamp": true},
                 "axis": {"orient": "left", "values": [0,0.5,1,1.5,2,2.5,3,3.5,4,4.5,5,5.5,6,6.5,7,7.5,8,8.5,9,9.5,10,10.5,11,11.5,12], "labels": false, "domain": false, "grid": false, "title": null, "tickWidth": 1.2, "tickSize": {"condition": {"test": "datum.value % 2 === 0", "value": -15}, "value": -7}}}}},
        {"mark": {"type": "point", "opacity": 0},
         "encoding": {
           "x": {"field": "lon", "type": "quantitative", "scale": {"domain": [40, 25.1], "nice": false, "zero": false},
                 "axis": {"orient": "top", "values": [25.5,26,26.5,27,27.5,28,28.5,29,29.5,30,30.5,31,31.5,32,32.5,33,33.5,34,34.5,35,35.5,36,36.5,37,37.5,38,38.5,39,39.5,40], "labels": false, "domain": false, "grid": false, "title": null, "tickWidth": 1.2, "tickSize": {"condition": {"test": "datum.value % 2 === 0", "value": -5}, "value": -2.5}}},
           "y": {"field": "v", "type": "quantitative", "scale": {"domain": [0, 12], "nice": false, "zero": false, "clamp": true},
                 "axis": {"orient": "right", "values": [0,0.5,1,1.5,2,2.5,3,3.5,4,4.5,5,5.5,6,6.5,7,7.5,8,8.5,9,9.5,10,10.5,11,11.5,12], "labels": false, "domain": false, "grid": false, "title": null, "tickWidth": 1.2, "tickSize": {"condition": {"test": "datum.value % 2 === 0", "value": -10}, "value": -5}}}}},
        {"data": {"values": [{"k": 1}]},
         "mark": {"type": "text", "text": "c)", "fontSize": 28, "fontWeight": "bold", "align": "left", "baseline": "alphabetic", "color": "black"},
         "encoding": {
           "x": {"datum": 42.02, "type": "quantitative", "scale": {"domain": [40, 25.1], "nice": false, "zero": false}, "axis": null},
           "y": {"datum": 11.2, "type": "quantitative", "scale": {"domain": [0, 12], "nice": false, "zero": false, "clamp": true}, "axis": null}}},
        {"data": {"values": [{"k": 1}]},
         "mark": {"type": "text", "text": "Lat. 19.69 N", "fontSize": 26, "align": "right", "baseline": "alphabetic", "color": "black"},
         "encoding": {
           "x": {"datum": 25.39, "type": "quantitative", "scale": {"domain": [40, 25.1], "nice": false, "zero": false}, "axis": null},
           "y": {"datum": 10.1, "type": "quantitative", "scale": {"domain": [0, 12], "nice": false, "zero": false, "clamp": true}, "axis": null}}}
      ]
    },
    {
      "width": 787, "height": 226,
      "title": {"text": "Maja Vallis rms Slope: DOY 027", "fontSize": 26, "fontWeight": "bold", "anchor": "middle", "frame": "group", "baseline": "alphabetic", "offset": -19},
      "data": {"name": "d"},
      "resolve": {"axis": {"x": "independent", "y": "independent"}},
      "layer": [
        {"mark": {"type": "errorbar", "color": "black", "thickness": 1.3},
         "encoding": {
           "x": {"field": "lon", "type": "quantitative", "scale": {"domain": [60, 45.1], "nice": false, "zero": false}, "axis": null},
           "y": {"field": "v", "type": "quantitative", "scale": {"domain": [0, 12], "nice": false, "zero": false, "clamp": true}, "axis": null},
           "yError": {"field": "e"}}},
        {"mark": {"type": "point", "filled": true, "color": "black", "opacity": 1, "size": 110, "shape": "M-1,0A1,0.72,0,1,1,1,0A1,0.72,0,1,1,-1,0Z"},
         "encoding": {
           "x": {"field": "lon", "type": "quantitative", "scale": {"domain": [60, 45.1], "nice": false, "zero": false},
                 "axis": {"orient": "bottom", "values": [60, 58, 56, 54, 52, 50, 48, 46], "ticks": false, "domain": false, "grid": false, "labelFontSize": 22, "labelFontWeight": "bold", "labelPadding": 10, "labelOverlap": false, "labelFlush": false, "title": "Longitude", "titleFontSize": 22, "titleFontWeight": "bold", "titlePadding": -4}},
           "y": {"field": "v", "type": "quantitative", "scale": {"domain": [0, 12], "nice": false, "zero": false, "clamp": true},
                 "axis": {"orient": "left", "values": [0, 2, 4, 6, 8, 10, 12], "ticks": false, "domain": false, "grid": false, "labelFontSize": 20, "labelFontWeight": "bold", "labelPadding": 8, "labelFlush": true, "labelOverlap": false, "title": "θᵣₘₛ [deg] from fit", "titleFontSize": 23, "titleFontWeight": "normal", "titlePadding": 13}}}},
        {"mark": {"type": "point", "opacity": 0},
         "encoding": {
           "x": {"field": "lon", "type": "quantitative", "scale": {"domain": [60, 45.1], "nice": false, "zero": false},
                 "axis": {"orient": "bottom", "values": [45.5,46,46.5,47,47.5,48,48.5,49,49.5,50,50.5,51,51.5,52,52.5,53,53.5,54,54.5,55,55.5,56,56.5,57,57.5,58,58.5,59,59.5,60], "labels": false, "domain": false, "grid": false, "title": null, "tickWidth": 1.2, "tickSize": {"condition": {"test": "datum.value % 2 === 0", "value": -5}, "value": -2.5}}},
           "y": {"field": "v", "type": "quantitative", "scale": {"domain": [0, 12], "nice": false, "zero": false, "clamp": true},
                 "axis": {"orient": "left", "values": [0,0.5,1,1.5,2,2.5,3,3.5,4,4.5,5,5.5,6,6.5,7,7.5,8,8.5,9,9.5,10,10.5,11,11.5,12], "labels": false, "domain": false, "grid": false, "title": null, "tickWidth": 1.2, "tickSize": {"condition": {"test": "datum.value % 2 === 0", "value": -15}, "value": -7}}}}},
        {"mark": {"type": "point", "opacity": 0},
         "encoding": {
           "x": {"field": "lon", "type": "quantitative", "scale": {"domain": [60, 45.1], "nice": false, "zero": false},
                 "axis": {"orient": "top", "values": [45.5,46,46.5,47,47.5,48,48.5,49,49.5,50,50.5,51,51.5,52,52.5,53,53.5,54,54.5,55,55.5,56,56.5,57,57.5,58,58.5,59,59.5,60], "labels": false, "domain": false, "grid": false, "title": null, "tickWidth": 1.2, "tickSize": {"condition": {"test": "datum.value % 2 === 0", "value": -5}, "value": -2.5}}},
           "y": {"field": "v", "type": "quantitative", "scale": {"domain": [0, 12], "nice": false, "zero": false, "clamp": true},
                 "axis": {"orient": "right", "values": [0,0.5,1,1.5,2,2.5,3,3.5,4,4.5,5,5.5,6,6.5,7,7.5,8,8.5,9,9.5,10,10.5,11,11.5,12], "labels": false, "domain": false, "grid": false, "title": null, "tickWidth": 1.2, "tickSize": {"condition": {"test": "datum.value % 2 === 0", "value": -10}, "value": -5}}}}},
        {"data": {"values": [{"k": 1}]},
         "mark": {"type": "text", "text": "d)", "fontSize": 28, "fontWeight": "bold", "align": "left", "baseline": "alphabetic", "color": "black"},
         "encoding": {
           "x": {"datum": 62.02, "type": "quantitative", "scale": {"domain": [60, 45.1], "nice": false, "zero": false}, "axis": null},
           "y": {"datum": 10.83, "type": "quantitative", "scale": {"domain": [0, 12], "nice": false, "zero": false, "clamp": true}, "axis": null}}},
        {"data": {"values": [{"k": 1}]},
         "mark": {"type": "text", "text": "Lat. 19.96 N", "fontSize": 26, "align": "right", "baseline": "alphabetic", "color": "black"},
         "encoding": {
           "x": {"datum": 45.39, "type": "quantitative", "scale": {"domain": [60, 45.1], "nice": false, "zero": false}, "axis": null},
           "y": {"datum": 10.1, "type": "quantitative", "scale": {"domain": [0, 12], "nice": false, "zero": false, "clamp": true}, "axis": null}}}
      ]
    }
  ]
}
